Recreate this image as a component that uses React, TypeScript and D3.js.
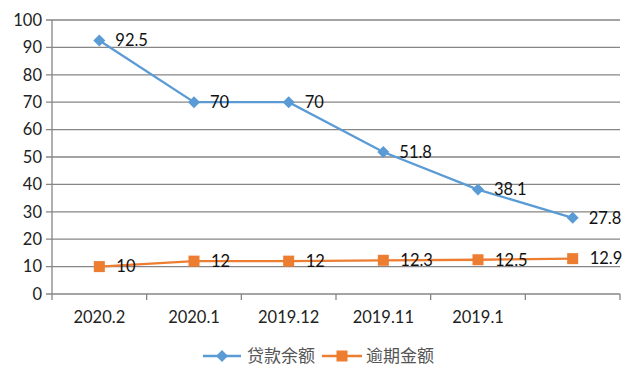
import React from "react";
import * as d3 from "d3";

const categories = ["2020.2", "2020.1", "2019.12", "2019.11", "2019.1", ""];
const loanBalance = [92.5, 70, 70, 51.8, 38.1, 27.8];
const overdue = [10, 12, 12, 12.3, 12.5, 12.9];
const yTicks = [0, 10, 20, 30, 40, 50, 60, 70, 80, 90, 100];
const seriesNames = ["贷款余额", "逾期金额"];

const W = 640, H = 384;
const left = 52, right = 620, top = 20, bottom = 294;
const BLUE = "#5B9BD5", ORANGE = "#ED7D31";
const FONT = "Lato, 'Open Sans', 'Liberation Sans', sans-serif";

export default function App() {
  const x = d3.scaleBand<string>().domain(categories.map((c, i) => String(i))).range([left, right]);
  const y = d3.scaleLinear().domain([0, 100]).range([bottom, top]);
  const cx = (i: number) => (x(String(i)) as number) + x.bandwidth() / 2;
  const line = d3.line<number>().x((_, i) => cx(i)).y((d) => y(d));

  return (
    <svg width={W} height={H} style={{ position: "absolute", left: 0, top: 0, background: "#fff" }}>
      {yTicks.map((t) => (
        <g key={t}>
          <line x1={left - 6} x2={right} y1={y(t)} y2={y(t)} stroke="#868686" strokeWidth={1.3} />
          <text x={left - 10} y={y(t)} dy="0.35em" textAnchor="end" fontFamily={FONT} fontSize={16.5} fill="#222">{t}</text>
        </g>
      ))}
      <line x1={left} x2={left} y1={top} y2={bottom} stroke="#868686" strokeWidth={1.3} />
      {categories.map((c, i) => (
        <line key={"tk" + i} x1={x(String(i)) as number} x2={x(String(i)) as number} y1={bottom} y2={bottom + 6} stroke="#868686" strokeWidth={1.3} />
      ))}
      <line x1={right} x2={right} y1={bottom} y2={bottom + 6} stroke="#868686" strokeWidth={1.3} />
      {categories.map((c, i) => (
        <text key={"c" + i} x={cx(i)} y={317} dy="0.35em" textAnchor="middle" fontFamily={FONT} fontSize={16.5} fill="#222">{c}</text>
      ))}

      <path d={line(loanBalance) as string} fill="none" stroke={BLUE} strokeWidth={2.3} />
      <path d={line(overdue) as string} fill="none" stroke={ORANGE} strokeWidth={2.3} />
      {loanBalance.map((v, i) => (
        <g key={"b" + i}>
          <path d={`M${cx(i)},${y(v) - 6}L${cx(i) + 6},${y(v)}L${cx(i)},${y(v) + 6}L${cx(i) - 6},${y(v)}Z`} fill={BLUE} />
          <text x={cx(i) + 16} y={y(v)} dy="0.35em" fontFamily={FONT} fontSize={16.5} fill="#111">{v}</text>
        </g>
      ))}
      {overdue.map((v, i) => (
        <g key={"o" + i}>
          <rect x={cx(i) - 5.5} y={y(v) - 5.5} width={11} height={11} fill={ORANGE} />
          <text x={cx(i) + 17} y={y(v)} dy="0.35em" fontFamily={FONT} fontSize={16.5} fill="#111">{v}</text>
        </g>
      ))}

      <g>
        <line x1={203} x2={241} y1={356} y2={356} stroke={BLUE} strokeWidth={2.3} />
        <path d={`M222,350L228,356L222,362L216,356Z`} fill={BLUE} />
        <text x={247} y={356} dy="0.35em" fontFamily="'Noto Sans CJK SC', sans-serif" fontSize={17} fill="#555">{seriesNames[0]}</text>
        <line x1={322} x2={362} y1={356} y2={356} stroke={ORANGE} strokeWidth={2.3} />
        <rect x={336.5} y={350.5} width={11} height={11} fill={ORANGE} />
        <text x={366} y={356} dy="0.35em" fontFamily="'Noto Sans CJK SC', sans-serif" fontSize={17} fill="#555">{seriesNames[1]}</text>
      </g>
    </svg>
  );
}
